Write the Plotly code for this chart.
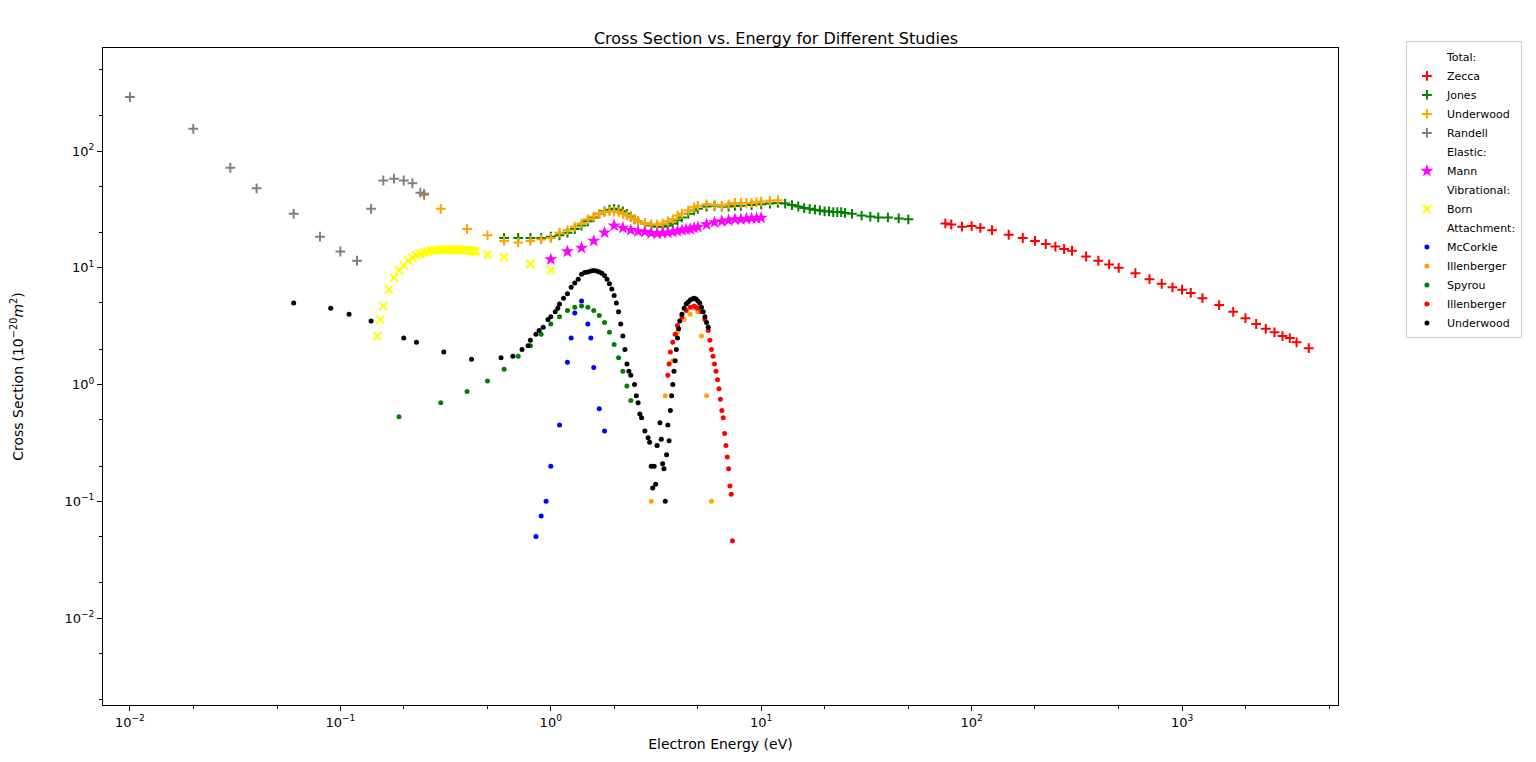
import plotly.graph_objects as go

zecca_x = [75,80,90,100,110,125,150,175,200,225,250,275,300,350,400,450,500,600,700,800,900,1000,1100,1250,1500,1750,2000,2250,2500,2750,3000,3250,3500,4000]
zecca_y = [24,23.5,22.5,22.8,22,21,19.2,18,17,16,15.2,14.5,14,12.5,11.5,10.7,10,9,8,7.3,6.8,6.5,6.1,5.5,4.8,4.2,3.7,3.3,3.0,2.8,2.6,2.5,2.3,2.05]

jones_x = [0.6,0.7,0.8,0.9,1.0,1.1,1.2,1.3,1.4,1.5,1.6,1.7,1.8,1.9,2.0,2.1,2.2,2.3,2.4,2.5,2.6,2.8,3.0,3.2,3.4,3.6,3.8,4.0,4.2,4.5,4.8,5.0,5.5,6.0,6.5,7.0,7.5,8.0,9.0,10,11,12,13,14,15,16,17,18,19,20,21,22,23,24,25,27,30,33,36,40,45,50]
jones_y = [18,18,18,18,18.5,19,20,21.5,23,25,27,29,30.5,31.5,32,31.5,30.5,29,27.5,26,25,24,23,22.5,22.5,23,24,25.5,27,29,31,32,33.5,34,33.5,33.5,34,34,34.5,35,35.5,36,35.5,34.5,33.5,32.5,32,31.5,31,30.5,30.5,30,30,30,29.5,29,28,27.5,27,27,26.5,26]

uw_x = [0.25,0.3,0.4,0.5,0.6,0.7,0.8,0.9,1.0,1.1,1.2,1.3,1.4,1.5,1.6,1.7,1.8,1.9,2.0,2.1,2.2,2.3,2.4,2.5,2.6,2.8,3.0,3.2,3.4,3.6,3.8,4.0,4.2,4.5,4.8,5.0,5.5,6.0,6.5,7.0,7.5,8.0,8.5,9.0,9.5,10,11,12]
uw_y = [42,32,21.5,19,17,16.5,17,17.5,18,20,21,22.5,24,26,27.5,29,30,30.5,30.5,30,29,28,27,26,25,24,23.5,23.5,24,25,26,28,29,31,33,34,35,34.5,34,35,36,36,36,36,36.5,37,37.5,38]

randell_x = [0.01,0.02,0.03,0.04,0.06,0.08,0.1,0.12,0.14,0.16,0.18,0.2,0.22,0.24,0.25]
randell_y = [290,155,72,48,29,18.5,13.8,11.5,32,56,58,56,53,44,43]

mann_x = [1.0,1.2,1.4,1.6,1.8,2.0,2.2,2.4,2.6,2.8,3.0,3.2,3.4,3.6,3.8,4.0,4.2,4.4,4.6,4.8,5.0,5.5,6.0,6.5,7.0,7.5,8.0,8.5,9.0,9.5,10]
mann_y = [11.8,13.8,14.8,17,20,23,22,21,20.5,20.3,19.8,19.6,19.8,20,20.3,20.6,21,21.3,21.5,22,22.3,23.5,24.5,25,25.5,26,26,26.3,26.5,26.5,26.8]

born_x = [0.15,0.155,0.16,0.17,0.18,0.19,0.2,0.21,0.22,0.23,0.24,0.25,0.26,0.27,0.28,0.29,0.3,0.31,0.32,0.33,0.34,0.35,0.36,0.37,0.38,0.39,0.4,0.41,0.42,0.43,0.44,0.5,0.6,0.8,1.0]
born_y = [2.6,3.6,4.7,6.5,8.2,9.5,10.5,11.5,12.2,12.8,13.2,13.5,13.8,14.0,14.1,14.2,14.3,14.3,14.3,14.3,14.3,14.3,14.3,14.3,14.3,14.2,14.2,14.1,14.0,13.9,13.8,13.0,12.3,10.8,9.6]

mcc_x = [0.85,0.9,0.95,1.0,1.1,1.2,1.25,1.3,1.4,1.5,1.55,1.6,1.7,1.8]
mcc_y = [0.05,0.075,0.1,0.2,0.45,1.55,2.5,4.1,5.2,3.3,2.5,1.4,0.62,0.4]

ill1_x = [3.0,3.2,3.5,3.8,4.0,4.3,4.6,4.8,5.0,5.2,5.5,5.8]
ill1_y = [0.1,0.3,0.8,1.6,2.8,3.6,4.0,4.5,4.2,2.6,0.8,0.1]

spy_x = [0.19,0.3,0.4,0.5,0.6,0.7,0.8,0.9,1.0,1.1,1.2,1.3,1.4,1.5,1.6,1.7,1.8,1.9,2.0,2.1,2.2,2.3,2.4]
spy_y = [0.53,0.7,0.87,1.07,1.35,1.75,2.15,2.7,3.3,3.8,4.3,4.6,4.7,4.6,4.3,3.9,3.4,2.8,2.2,1.7,1.3,0.97,0.73]

ill2_x = [3.6,3.65,3.7,3.8,3.9,4.0,4.2,4.4,4.6,4.8,4.9,5.0,5.2,5.4,5.6,5.7,5.8,5.9,6.0,6.1,6.2,6.3,6.4,6.5,6.6,6.7,6.8,6.9,7.0,7.1,7.2,7.3]
ill2_y = [1.2,1.5,1.9,2.3,2.7,3.2,3.8,4.3,4.6,4.7,4.6,4.5,4.2,3.6,2.9,2.4,2.0,1.75,1.5,1.3,1.1,0.92,0.75,0.6,0.52,0.38,0.3,0.24,0.19,0.135,0.115,0.046]

uwa_x = [0.06,0.09,0.11,0.14,0.2,0.23,0.31,0.42,0.58,0.66,0.73,0.78,0.8,0.85,0.88,0.92,0.97,1.0,1.05,1.08,1.1,1.15,1.2,1.25,1.3,1.35,1.4,1.45,1.5,1.55,1.6,1.65,1.7,1.75,1.8,1.85,1.9,1.95,2.0,2.05,2.1,2.15,2.2,2.25,2.3,2.35,2.4,2.5,2.55,2.6,2.65,2.7,2.8,2.9,2.95,3.0,3.05,3.1,3.15,3.2,3.3,3.35,3.4,3.45,3.5,3.55,3.6,3.65,3.7,3.75,3.8,3.85,3.9,3.95,4.0,4.05,4.1,4.2,4.3,4.4,4.5,4.6,4.7,4.8,4.9,5.0,5.1,5.2,5.3,5.4,5.5,5.6]
uwa_y = [5.0,4.5,4.0,3.5,2.5,2.3,1.9,1.65,1.7,1.75,2.0,2.15,2.4,2.7,2.9,3.1,3.6,3.8,4.2,4.5,4.9,5.5,6.0,6.8,7.4,8.0,8.8,9.1,9.2,9.4,9.5,9.4,9.2,9.0,8.6,8.0,7.3,6.6,5.8,5.0,4.2,3.3,2.6,2.0,1.5,1.3,1.2,1.0,0.8,0.7,0.56,0.52,0.4,0.35,0.32,0.2,0.13,0.2,0.14,0.3,0.47,0.34,0.21,0.19,0.1,0.25,0.45,0.33,0.6,0.8,1.0,1.3,1.6,2.0,2.5,3.0,3.5,4.0,4.5,4.9,5.1,5.3,5.4,5.5,5.4,5.2,5.0,4.6,4.2,3.8,3.4,3.1]

x_powers = [-2, -1, 0, 1, 2, 3]
y_powers = [-2, -1, 0, 1, 2]

fig = go.Figure()
def header(name):
    fig.add_trace(go.Scatter(x=[None], y=[None], mode="markers", name=name,
                             marker=dict(color="rgba(0,0,0,0)", size=1)))
def plus(x, y, name, color):
    fig.add_trace(go.Scatter(x=x, y=y, mode="markers", name=name,
                             marker=dict(symbol="cross-thin", size=7, line=dict(color=color, width=2), color=color)))
def dots(x, y, name, color):
    fig.add_trace(go.Scatter(x=x, y=y, mode="markers", name=name,
                             marker=dict(symbol="circle", size=5, color=color)))

header("Total:")
plus(zecca_x, zecca_y, "Zecca", "red")
plus(jones_x, jones_y, "Jones", "green")
plus(uw_x, uw_y, "Underwood", "orange")
plus(randell_x, randell_y, "Randell", "gray")
header("Elastic:")
fig.add_trace(go.Scatter(x=mann_x, y=mann_y, mode="markers", name="Mann",
                         marker=dict(symbol="star", size=10, color="magenta")))
header("Vibrational:")
fig.add_trace(go.Scatter(x=born_x, y=born_y, mode="markers", name="Born",
                         marker=dict(symbol="x-thin", size=8, line=dict(color="yellow", width=2), color="yellow")))
header("Attachment:")
dots(mcc_x, mcc_y, "McCorkle", "blue")
dots(ill1_x, ill1_y, "Illenberger", "orange")
dots(spy_x, spy_y, "Spyrou", "green")
dots(ill2_x, ill2_y, "Illenberger", "red")
dots(uwa_x, uwa_y, "Underwood", "black")

def axis(powers):
    return dict(type="log", showgrid=False, showline=True, linecolor="black", mirror=True,
                ticks="outside", ticklen=5, tickcolor="black", automargin=False,
                tickvals=[10.0**p for p in powers],
                ticktext=["10<sup>%s</sup>" % (str(p).replace("-", "−")) for p in powers],
                tickfont=dict(size=13),
                zeroline=False, minor=dict(ticks="outside", ticklen=3, tickcolor="black", showgrid=False))

fig.update_layout(
    width=1536, height=762, plot_bgcolor="white", paper_bgcolor="white",
    margin=dict(l=95, r=206, t=40, b=65),
    font=dict(family="DejaVu Sans", size=12, color="black"),
    title=dict(text="Cross Section vs. Energy for Different Studies", x=0.5, xanchor="center",
               y=0.967, font=dict(size=16)),
    xaxis=dict(axis(x_powers), range=[-2.128, 3.741], title=dict(text="Electron Energy (eV)", standoff=10)),
    yaxis=dict(axis(y_powers), range=[-2.745, 2.883],
               title=dict(text="Cross Section (10<sup>−20</sup><i>m</i><sup>2</sup>)", standoff=45)),
    legend=dict(x=1.055, y=1.01, xanchor="left", yanchor="top", bordercolor="#cccccc", borderwidth=1,
                font=dict(size=11), tracegroupgap=0, itemsizing="trace"),
)
fig.write_html("out.html")
